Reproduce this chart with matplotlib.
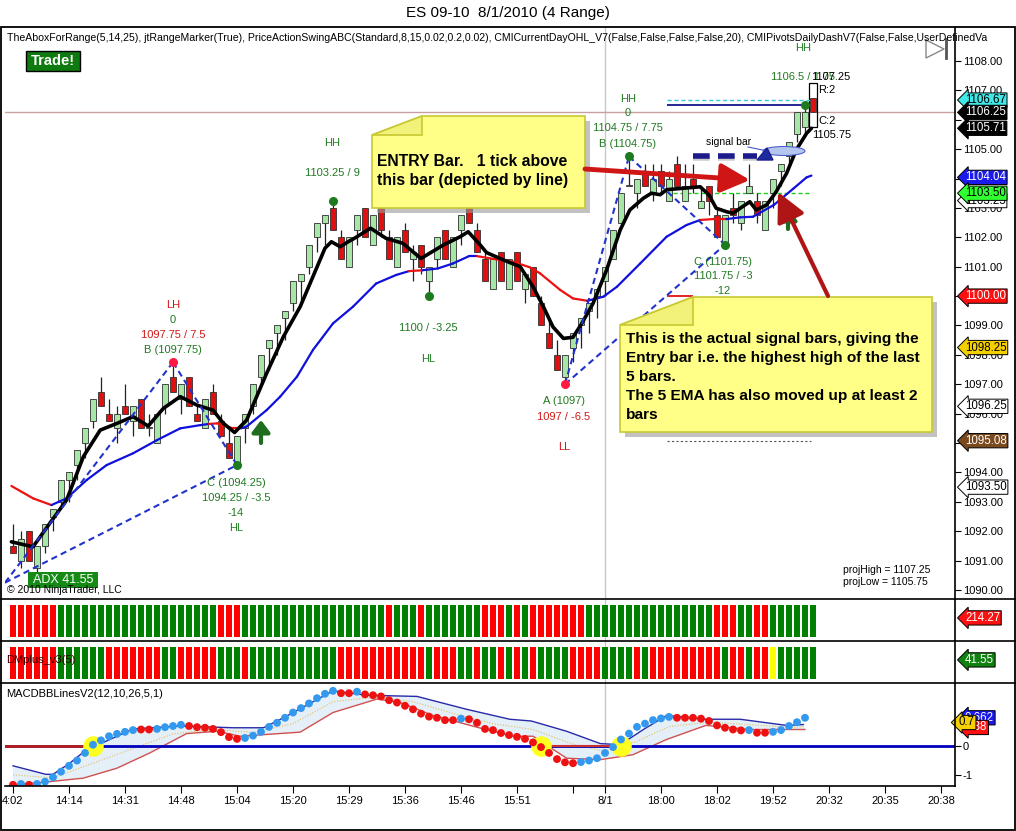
import numpy as np
import matplotlib
matplotlib.use("Agg")
import matplotlib.pyplot as plt
import matplotlib.transforms as mtrans
from matplotlib.patches import Polygon, Rectangle, Ellipse

plt.rcParams['font.family'] = ['Liberation Sans', 'DejaVu Sans']

# ---------------- data ----------------
opens = [1091.5,1091.0,1092.0,1090.75,1091.5,1092.5,1093.0,1093.75,1094.25,1095.0,
 1095.75,1096.75,1096.0,1095.5,1096.25,1095.75,1096.5,1095.5,1095.0,1096.25,
 1097.25,1096.5,1097.25,1096.0,1095.5,1096.75,1095.75,1095.0,1094.25,1095.5,
 1096.25,1097.25,1098.25,1098.75,1099.25,1099.75,1100.5,1101.0,1102.0,1102.5,
 1103.0,1102.0,1101.0,1102.25,1103.0,1101.75,1103.0,1102.0,1101.0,1102.25,
 1101.25,1101.75,1100.5,1101.25,1102.25,1101.0,1102.25,1103.0,1102.25,1101.25,
 1100.25,1101.5,1100.25,1101.5,1100.25,1101.0,1099.75,1098.75,1098.0,1097.25,
 1098.25,1099.0,1099.5,1100.0,1100.5,1101.25,1102.5,1103.75,1103.5,1104.25,
 1103.5,1104.25,1103.25,1104.5,1103.25,1104.0,1103.0,1103.75,1102.75,1101.75,
 1103.0,1102.5,1103.5,1103.25,1102.25,1103.5,1104.25,1104.75,1105.5,1105.75,
 1106.75]
highs = [1092.25,1092.0,1092.0,1091.5,1092.25,1092.75,1093.75,1094.0,1094.75,1095.5,
 1096.5,1097.25,1096.5,1096.25,1097.0,1096.25,1096.5,1096.0,1096.0,1097.0,
 1097.75,1097.0,1097.25,1096.25,1096.5,1097.0,1096.0,1095.5,1095.25,1096.0,
 1097.0,1098.0,1098.5,1099.0,1099.5,1100.5,1100.75,1101.75,1102.5,1102.75,
 1103.25,1102.25,1102.0,1102.75,1103.0,1102.75,1103.0,1102.25,1102.0,1102.5,
 1101.75,1101.75,1101.0,1102.0,1102.25,1102.0,1102.75,1103.25,1102.5,1101.5,
 1101.25,1101.5,1101.25,1101.5,1100.75,1101.0,1100.0,1099.25,1098.5,1098.0,
 1098.75,1099.25,1099.75,1100.25,1101.0,1102.25,1103.5,1104.75,1104.0,1104.5,
 1104.5,1104.5,1104.25,1104.75,1104.5,1104.5,1103.75,1103.75,1103.0,1102.75,
 1103.5,1103.25,1104.5,1103.5,1103.25,1104.0,1104.5,1105.25,1106.25,1106.5,
 1106.75]
lows = [1091.25,1090.75,1091.0,1090.5,1091.25,1092.0,1092.75,1093.0,1093.75,1094.5,
 1095.5,1096.25,1095.75,1095.0,1096.0,1095.25,1095.5,1095.25,1095.0,1096.0,
 1096.75,1096.0,1096.25,1095.75,1095.5,1096.0,1095.25,1094.5,1094.25,1095.0,
 1096.0,1097.0,1097.5,1098.0,1098.5,1099.5,1099.75,1100.75,1101.5,1101.75,
 1102.25,1101.25,1101.0,1101.75,1102.0,1101.75,1102.0,1101.25,1101.0,1101.5,
 1100.5,1100.75,1100.0,1101.0,1101.25,1101.0,1101.75,1102.5,1101.5,1100.5,
 1100.25,1100.5,1100.25,1100.5,1099.75,1100.0,1099.0,1098.25,1097.5,1097.0,
 1097.75,1098.25,1098.75,1099.25,1100.0,1101.25,1102.5,1103.75,1103.0,1103.75,
 1103.25,1103.5,1103.25,1103.75,1103.25,1103.5,1103.0,1102.75,1102.0,1101.75,
 1102.5,1102.25,1103.5,1102.5,1102.25,1103.0,1103.75,1104.5,1105.25,1105.5,
 1106.25]
closes = [1091.25,1091.75,1091.0,1091.5,1092.25,1092.75,1093.75,1094.0,1094.75,1095.5,
 1096.5,1096.25,1095.75,1096.0,1096.0,1096.25,1095.5,1095.5,1096.0,1097.0,
 1096.75,1097.0,1096.25,1095.75,1096.5,1096.0,1095.25,1094.5,1095.25,1096.0,
 1097.0,1098.0,1098.5,1099.0,1099.5,1100.5,1100.75,1101.75,1102.5,1102.75,
 1102.25,1101.25,1102.0,1102.75,1102.0,1102.75,1102.25,1101.25,1102.0,1101.5,
 1101.5,1101.0,1101.0,1102.0,1101.25,1102.0,1102.75,1102.5,1101.5,1100.5,
 1101.25,1100.5,1101.25,1100.5,1100.75,1100.0,1099.0,1098.25,1097.5,1098.0,
 1098.75,1099.25,1099.75,1100.25,1101.0,1102.25,1103.5,1103.75,1104.0,1103.75,
 1104.0,1103.75,1104.0,1103.75,1103.75,1103.75,1103.25,1103.25,1102.0,1102.75,
 1102.75,1103.25,1103.75,1102.75,1103.25,1104.0,1104.5,1105.25,1106.25,1106.25,
 1106.25]

# fast (5) EMA line: (bar, price)
ema_x = [-0.2, 2.5, 4.6, 6.7, 8.8, 10.9, 13, 15, 16.9, 18.8, 20.9, 23, 25, 26.3, 27.7, 29.2,
         31.7, 33.8, 35.9, 39, 39.8, 40.9, 41.9, 42.7, 44.7, 46.6, 48.7, 51, 53.8, 55.9, 56.9,
         58.4, 59.2, 61.3, 63.4, 65, 66.3, 67.5, 68.8, 70, 71.1, 72.5, 74.2, 75.9, 77.1, 78.8,
         79.8, 80.9, 81.7, 83.8, 85.9, 87, 87.9, 89.2, 90, 90.9, 92.1, 92.9, 94.2, 95.4, 96.7,
         97.9, 99.2, 99.8]
ema_y = [1091.64, 1091.47, 1092.27, 1093.06, 1094.54, 1095.44, 1095.67, 1095.9, 1095.58, 1096.18,
         1096.58, 1096.29, 1096.12, 1095.67, 1095.36, 1095.78, 1097.37, 1098.62, 1099.64, 1101.63,
         1101.85, 1101.68, 1101.85, 1101.97, 1102.31, 1101.97, 1101.8, 1101.28, 1101.74, 1102.02,
         1102.19, 1101.74, 1101.48, 1101.23, 1101.0, 1100.32, 1099.64, 1098.95, 1098.56, 1098.6,
         1099.07, 1099.75, 1100.89, 1102.25, 1102.93, 1103.33, 1103.5, 1103.45, 1103.62, 1103.67,
         1103.72, 1103.44, 1102.99, 1102.87, 1102.82, 1102.99, 1103.21, 1102.93, 1103.1, 1103.55,
         1104.18, 1104.97, 1105.54, 1105.71]

# slow line (blue rising / red falling)
slow_x = [-0.2, 2.5, 4.8, 6.7, 9.2, 11.7, 15, 18, 20.9, 23.4, 24.5, 25.5, 27.5, 28.5, 29.2,
          31.7, 33.4, 35.5, 37.5, 40, 42.5, 45.4, 47.9, 49.5, 51.2, 53.1, 55, 57, 58, 60.4, 62.5,
          64.6, 65.9, 68.4, 70, 71.8, 73.8, 75.5, 78.4, 81.7, 84.2, 85.9, 87.5, 89.2, 90.9, 92.5,
          95.1, 97.6, 99.2, 99.8]
slow_y = [1093.54, 1093.12, 1092.89, 1093.12, 1093.74, 1094.25, 1094.65, 1095.1, 1095.5, 1095.61,
          1095.65, 1095.67, 1095.5, 1095.5, 1095.56, 1096.12, 1096.58, 1097.26, 1098.17, 1099.07,
          1099.64, 1100.43, 1100.72, 1100.85, 1100.88, 1100.94, 1101.11, 1101.36, 1101.36, 1101.25,
          1101.17, 1100.98, 1100.77, 1100.21, 1099.92, 1099.84, 1099.98, 1100.32, 1101.11, 1102.02,
          1102.42, 1102.59, 1102.62, 1102.62, 1102.68, 1102.7, 1103.1, 1103.67, 1104.04, 1104.1]
slow_seg = "RRBBBBBBBBRRRBBBBBBBBBBRBBBBRRRRRRRBBBBBBRRBBBBBB"

# swing points (bar, price)
swing1 = [(-1, 1090.25), (20, 1097.75), (28, 1094.25)]
swing2 = [(69, 1097.0), (77, 1104.75), (89, 1101.75)]
green_dots_x = [28, 40, 52, 77, 89, 99]
green_dots_y = [1094.25, 1103.25, 1100.0, 1104.75, 1101.75, 1106.5]
red_dots_x = [20, 69]
red_dots_y = [1097.75, 1097.0]

# indicator panels (one letter per bar)
panel2 = ("RRRRRR" "GGGGGGGGGGGGGGGGGGGG" "RRR" "GGGGGGGGGGGGGGGGGG" "R" "GGG" "R"
          "GGGGGGG" "RRR" "G" "R" "G" "RRRRRRR" "GGGGGGGGGGGGGGGG" "RRR" "GG" "RR" "GGGGGG")
panel3 = ("RRRRRR" "GGGGGG" "RRRRRRR" "GG" "RRRRR" "GGG" "R" "GGGGGGGGGGG" "RRRRRRRRRRR" "G"
          "RRR" "GG" "R" "GG" "R" "G" "R" "G" "R" "GGGG" "RRRR" "GGGG" "R" "G" "RRRRRRRRR" "G"
          "RR" "G" "RR" "Y" "GGGGG")

# MACD dots (bars 0..99)
macd = [-1.34,-1.31,-1.34,-1.31,-1.23,-1.08,-0.89,-0.69,-0.51,-0.25,
        0.03,0.18,0.32,0.40,0.47,0.53,0.55,0.55,0.57,0.63,
        0.67,0.71,0.67,0.63,0.61,0.57,0.46,0.29,0.23,0.26,
        0.34,0.47,0.64,0.78,0.95,1.13,1.28,1.44,1.62,1.77,
        1.87,1.79,1.79,1.84,1.75,1.72,1.68,1.55,1.47,1.36,
        1.24,1.09,0.99,0.95,0.87,0.87,0.92,0.90,0.78,0.57,
        0.53,0.43,0.36,0.30,0.23,0.11,-0.05,-0.25,-0.46,-0.57,
        -0.60,-0.56,-0.51,-0.43,-0.25,-0.05,0.21,0.41,0.64,0.75,
        0.87,0.93,0.98,0.95,0.95,0.95,0.92,0.84,0.69,0.61,
        0.55,0.52,0.53,0.44,0.44,0.47,0.53,0.67,0.80,0.95]
macd_dir = ("RBRB" "BBBBBBBBBBBB" "RR" "BBBB" "RRRRRRR" "BBBBBBBBBBBB" "RR" "B"
            "RRRRRRRRRRRR" "B" "RRRRRRRRRRRRRR" "BBBBBBBBBBBB" "RRRRRRRRR" "B" "RR" "BBBBB")
bb_up_x = [0, 4.1, 5, 7, 9, 10.9, 15, 20.9, 27.5, 31.3, 33.8, 40, 44.2, 50.5, 56.7, 62.1, 64.8,
           69.2, 73.4, 75.9, 78.8, 81.7, 86.6, 90.9, 96.7, 98.8]
bb_up_y = [-0.69, -0.98, -0.98, -0.62, -0.18, 0.06, 0.57, 0.67, 0.61, 0.61, 0.95, 1.87, 1.72,
           1.68, 1.24, 0.90, 0.84, 0.49, 0.07, 0.03, 0.55, 1.03, 0.90, 0.90, 0.69, 0.72]
bb_lo_x = [0, 4.6, 8.8, 13, 17.1, 21.7, 25.5, 28.4, 35.9, 40, 45.5, 48.4, 52.5, 58.8, 62.5, 65,
           69.2, 73.4, 77.5, 81.7, 86.6, 92.1, 96.7, 99]
bb_lo_y = [-1.34, -1.23, -1.11, -0.77, -0.25, 0.41, 0.49, 0.32, 0.46, 1.13, 1.59, 1.47, 1.03,
           0.57, 0.32, 0.32, -0.43, -0.48, -0.31, 0.21, 0.69, 0.55, 0.55, 0.55]
bb_mid_x = [0, 5, 10, 15, 20, 25, 30, 35, 40, 45, 50, 55, 60, 65, 70, 74, 78, 82, 87, 92, 97, 99]
bb_mid_y = [-1.0, -1.1, -0.6, -0.1, 0.4, 0.55, 0.45, 0.75, 1.5, 1.65, 1.5, 1.1, 0.75, 0.55,
            0.05, -0.2, 0.15, 0.65, 0.8, 0.72, 0.62, 0.65]
cross_x = [10, 66, 76]
cross_y = [0.0, -0.02, -0.02]

price_ticks = [1090, 1091, 1092, 1093, 1094, 1095, 1096, 1097, 1098, 1099,
               1100, 1101, 1102, 1103, 1104, 1105, 1106, 1107, 1108]
price_hidden = [1100, 1104, 1106]   # labels fully covered by flags in the reference
time_ticks = [0, 7, 14, 21, 28, 35, 42, 49, 56, 63, 70, 74, 81, 88, 95, 102, 109, 116]
time_labels = ['4:02', '14:14', '14:31', '14:48', '15:04', '15:20', '15:29', '15:36', '15:46',
               '15:51', '', '8/1', '18:00', '18:02', '19:52', '20:32', '20:35', '20:38']

# ---------------- figure ----------------
W, H = 1016, 831
fig = plt.figure(figsize=(W / 100, H / 100), dpi=100)
fig.patch.set_facecolor('white')
XMIN, XMAX = -1.0, 117.75


def add_ax(x0, y0, x1, y1, z=1):
    a = fig.add_axes([x0 / W, 1 - y1 / H, (x1 - x0) / W, (y1 - y0) / H], zorder=z)
    for s in a.spines.values():
        s.set_visible(False)
    a.set_xlim(XMIN, XMAX)
    a.set_facecolor('none')
    return a


def flag(a, y, s, fc, tc, xfrac=1.0105, fs=8.3):
    tr = mtrans.blended_transform_factory(a.transAxes, a.transData)
    a.text(xfrac, y, s, transform=tr, ha='left', va='center', fontsize=fs, color=tc,
           bbox=dict(boxstyle='larrow,pad=0.1', fc=fc, ec='black', lw=0.7),
           clip_on=False, zorder=30)


# ---- main price panel ----
ax = add_ax(5, 28, 955, 598)
ax.set_ylim(1089.728, 1109.122)
ax.yaxis.tick_right()
ax.set_yticks(price_ticks)
ax.set_yticklabels(['' if v in price_hidden else f"{v:.2f}" for v in price_ticks], fontsize=8)
ax.tick_params(axis='y', direction='out', length=4, pad=1.5, width=0.8)
ax.set_xticks([])
ax.axvline(74, color='#c8c8c8', lw=1, zorder=0)
ax.axhline(1106.25, color='#c8a0a0', lw=1, zorder=1)

o = np.array(opens); h = np.array(highs); l = np.array(lows); c = np.array(closes)
xb = np.arange(len(o))
up = c >= o
ax.add_patch(Rectangle((99.45, 1105.75), 1.1, 1.5, fc='white', ec='black', lw=0.9, zorder=2))
ax.vlines(xb, l, h, color='#222222', lw=0.9, zorder=3)
blo = np.minimum(o, c)
bh = np.maximum(np.abs(c - o), 0.035)
ax.bar(xb, bh, bottom=blo, width=0.7, color=np.where(up, '#a6e6a6', '#e01010'),
       edgecolor='#303030', linewidth=0.6, zorder=4)

# horizontal level lines
ax.hlines(1106.67, 81.75, 99.6, colors='#38c8e0', lw=1, linestyles=(0, (3, 2)), zorder=2)
ax.hlines(1106.5, 81.75, 99.0, colors='#000080', lw=1.2, zorder=2)
ax.hlines(1103.5, 82.5, 99.7, colors='#22cc22', lw=1, linestyles=(0, (3, 2)), zorder=2)
ax.hlines(1100.0, 81.75, 85.0, colors='#dd0000', lw=1.2, zorder=2)
ax.hlines(1095.08, 81.75, 99.75, colors='#555555', lw=0.8, linestyles=(0, (2, 2)), zorder=2)

# slow line
for k in range(len(slow_x) - 1):
    col = '#ee1111' if slow_seg[k] == 'R' else '#1010dd'
    ax.plot(slow_x[k:k + 2], slow_y[k:k + 2], color=col, lw=1.6, zorder=5,
            solid_capstyle='round')
ax.plot(ema_x, ema_y, color='black', lw=2.6, zorder=6, solid_capstyle='round')

# swing lines
for sw in (swing1, swing2):
    (x0, y0), (x1, y1), (x2, y2) = sw
    for (a0, b0), (a1, b1) in [((x0, y0), (x1, y1)), ((x1, y1), (x2, y2)), ((x0, y0), (x2, y2))]:
        ax.plot([a0, a1], [b0, b1], color='#2233cc', lw=1.5, ls=(0, (3, 2)), zorder=7)
ax.scatter(green_dots_x, green_dots_y, s=30, color='#1d7a1d', zorder=8)
ax.scatter(red_dots_x, red_dots_y, s=30, color='#ff1840', zorder=8)

# price flags
flag(ax, 1106.67, '1106.67', '#40e8e8', 'black')
flag(ax, 1106.25, '1106.25', 'black', 'white')
flag(ax, 1105.71, '1105.71', 'black', 'white')
flag(ax, 1104.04, '1104.04', '#1a1aee', 'white')
flag(ax, 1103.25, '1103.25', 'white', 'black')
flag(ax, 1103.50, '1103.50', '#30ff30', 'black')
flag(ax, 1100.00, '1100.00', '#ff1010', 'white')
flag(ax, 1098.25, '1098.25', '#f5d000', 'black')
flag(ax, 1096.25, '1096.25', 'white', 'black')
flag(ax, 1095.08, '1095.08', '#7a4a1e', 'white')
flag(ax, 1093.50, '1093.50', 'white', 'black')

# ---- panel 2 and 3 ----
cmap = {'R': '#ff0000', 'G': '#008000', 'Y': '#ffff00'}
ax2 = add_ax(5, 599, 955, 641)
ax3 = add_ax(5, 641, 955, 683)
for a, pcol in ((ax2, panel2), (ax3, panel3)):
    a.set_ylim(0, 1)
    a.set_xticks([]); a.set_yticks([])
    a.axvline(74, color='#c8c8c8', lw=1, zorder=0)
    xs = np.arange(len(pcol))
    a.bar(xs, 0.76, bottom=0.095, width=0.86, color=[cmap[k] for k in pcol], zorder=2)
flag(ax2, 0.55, '214.27', '#ff1010', 'white')
flag(ax3, 0.55, '41.55', '#108010', 'white')
ax3.text(-0.8, 0.55, 'DMplus_v3(5)', fontsize=8, color='#330000', va='center', zorder=5)

# ---- MACD panel ----
axm = add_ax(5, 683, 955, 786)
axm.set_ylim(-1.379, 2.138)
axm.axvline(74, color='#c8c8c8', lw=1, zorder=0)
band = list(zip(bb_up_x, bb_up_y)) + list(zip(bb_lo_x, bb_lo_y))[::-1]
axm.add_patch(Polygon(band, closed=True, fc='#e4eff8', ec='none', zorder=1))
axm.plot(bb_up_x, bb_up_y, color='#2a2aa8', lw=1, zorder=2)
axm.plot(bb_lo_x, bb_lo_y, color='#d05050', lw=1, zorder=2)
axm.plot(bb_mid_x, bb_mid_y, color='#e0c060', lw=0.8, ls=(0, (1, 1.5)), zorder=2)
axm.axhline(0, color='#0000bb', lw=2, zorder=2)
axm.plot([-1, 9.6], [0, 0], color='#b82020', lw=2, zorder=2.5)
axm.plot([65.9, 75.9], [0, 0], color='#cc3030', lw=1.5, zorder=2.5)
axm.scatter(cross_x, cross_y, s=190, color='#ffff20', zorder=3)
mx = np.arange(len(macd))
axm.scatter(mx, macd, s=32, color=['#3399ee' if d == 'B' else '#ee1111' for d in macd_dir],
            zorder=4, linewidths=0)
axm.text(-0.8, 1.75, 'MACDBBLinesV2(12,10,26,5,1)', fontsize=8, va='center', zorder=5)
axm.yaxis.tick_right()
axm.set_yticks([0, -1])
axm.set_yticklabels(['0', '-1'], fontsize=8)
axm.tick_params(axis='y', direction='out', length=4, pad=1.5)
axm.set_xticks(time_ticks)
axm.set_xticklabels(time_labels, fontsize=8)
axm.tick_params(axis='x', direction='out', length=5, pad=2)
flag(axm, 0.95, '0.662', '#1a1aee', 'white')
flag(axm, 0.62, '0.38', '#ff1010', 'white')
flag(axm, 0.79, '0.7', '#f5d000', 'black', xfrac=1.004)

# ---------------- overlay (annotations, frame) ----------------
ov = fig.add_axes([0, 0, 1, 1], zorder=50)
ov.set_xlim(0, W); ov.set_ylim(H, 0); ov.axis('off'); ov.patch.set_alpha(0)

ov.add_patch(Rectangle((1, 27), 1014, 803, fill=False, ec='black', lw=1.3))
for yy in (599, 641, 683):
    ov.plot([1, 1015], [yy, yy], color='black', lw=1.2)
ov.plot([955, 955], [28, 786], color='black', lw=1.2)
ov.plot([5, 955], [786, 786], color='black', lw=1.2)

ov.text(508, 13, 'ES 09-10  8/1/2010 (4 Range)', fontsize=11, ha='center', va='center')
ov.text(7, 38, 'TheAboxForRange(5,14,25), jtRangeMarker(True), PriceActionSwingABC(Standard,8,15,0.02,0.2,0.02), '
        'CMICurrentDayOHL_V7(False,False,False,False,20), CMIPivotsDailyDashV7(False,False,UserDefinedVa',
        fontsize=7.6, va='center')

# play icon
ov.plot([926, 944, 926, 926], [40, 49, 58, 40], color='#888888', lw=1)
ov.plot([946, 946], [39, 58], color='#555555', lw=2)

# Trade! box and ADX box
ov.add_patch(Rectangle((26, 51), 54, 20, fc='#0f7a0f', ec='black', lw=1))
ov.text(53, 61, 'Trade!', color='white', fontweight='bold', fontsize=10.5, ha='center', va='center')
ov.text(7, 590, '\u00a9 2010 NinjaTrader, LLC', fontsize=7.5, va='center')
ov.add_patch(Rectangle((28, 572), 70, 16, fc='#158a15', ec='none'))
ov.text(63, 580, 'ADX 41.55', color='white', fontsize=9, ha='center', va='center')
ov.text(843, 570, 'projHigh = 1107.25', fontsize=7.5, va='center')
ov.text(843, 582, 'projLow = 1105.75', fontsize=7.5, va='center')

# pivot labels
G, R = '#217a21', '#d01818'
labels = [
    ('LH', 173, 305, R), ('0', 173, 320, G), ('1097.75 / 7.5', 173, 335, R), ('B (1097.75)', 173, 350, G),
    ('C (1094.25)', 236, 483, G), ('1094.25 / -3.5', 236, 498, G), ('-14', 236, 513, G), ('HL', 236, 528, G),
    ('HH', 332, 143, G), ('1103.25 / 9', 332, 173, G),
    ('1100 / -3.25', 428, 328, G), ('HL', 428, 359, G),
    ('A (1097)', 564, 401, G), ('1097 / -6.5', 564, 417, R), ('LL', 564, 447, R),
    ('HH', 628, 99, G), ('0', 628, 113, G), ('1104.75 / 7.75', 628, 128, G), ('B (1104.75)', 628, 144, G),
    ('C (1101.75)', 723, 262, G), ('1101.75 / -3', 723, 276, G), ('-12', 723, 291, G),
    ('HH', 803, 48, G), ('1106.5 / 1.75', 803, 77, G),
]
for s, xx, yy, col in labels:
    ov.text(xx, yy, s, color=col, fontsize=8, ha='center', va='center')
ov.text(811, 77, '1107.25', fontsize=8, va='center', color='black')
ov.text(818, 90, 'R:2', fontsize=8, va='center')
ov.text(818, 121, 'C:2', fontsize=8, va='center')
ov.text(812, 135, '1105.75', fontsize=8, va='center')

# green up arrows
for xx, y0, y1 in ((261, 443, 420), (788, 229, 208)):
    ov.annotate('', xy=(xx, y1), xytext=(xx, y0),
                arrowprops=dict(arrowstyle='-|>,head_length=0.6,head_width=0.45', color='#1f6e1f',
                                lw=3, mutation_scale=12, shrinkA=0, shrinkB=0))

# signal bar annotation
ov.text(729, 142, 'signal bar', fontsize=7.5, ha='center', va='center')
ov.plot([748, 772], [147, 152], color='#4455cc', lw=0.8)
ov.add_patch(Ellipse((784, 151), 42, 9, fc='#b4c6ee', ec='#5060cc', lw=0.8, zorder=3))
ov.plot([693, 757], [158, 158], color='#999999', lw=4, ls=(0, (3, 1.5)), alpha=0.5, zorder=3)
ov.plot([693, 757], [156, 156], color='#1c1c8c', lw=4, ls=(0, (3, 1.5)), zorder=4)
ov.add_patch(Polygon([(757, 160), (773, 160), (767, 148)], closed=True, fc='#1c2ca0', ec='#1c1c8c', zorder=4))


def callout(pts, fold, off=5):
    ov.add_patch(Polygon([(x + off, y + off) for x, y in pts], closed=True, fc='#9a9a9a',
                         ec='none', alpha=0.6, zorder=5))
    ov.add_patch(Polygon(pts, closed=True, fc='#ffff88', ec='#c8c832', lw=1.2, zorder=6))
    ov.add_patch(Polygon(fold, closed=True, fc='#f2f27a', ec='#c8c832', lw=1.2, zorder=7))


callout([(372, 135), (422, 116), (585, 116), (585, 208), (372, 208)],
        [(372, 135), (422, 135), (422, 116)])
ov.text(377, 162, 'ENTRY Bar.   1 tick above', fontsize=11.3, fontweight='bold', va='center', zorder=8)
ov.text(377, 181, 'this bar (depicted by line)', fontsize=11.3, fontweight='bold', va='center', zorder=8)

callout([(620, 325), (693, 297), (932, 297), (932, 432), (620, 432)],
        [(620, 325), (693, 325), (693, 297)])
lines2 = ['This is the actual signal bars, giving the',
          'Entry bar i.e. the highest high of the last',
          '5 bars.',
          'The 5 EMA has also moved up at least 2',
          'bars']
for k, s in enumerate(lines2):
    ov.text(626, 339 + 19 * k, s, fontsize=11.1, fontweight='bold', va='center', zorder=8)

# red arrows
ov.annotate('', xy=(750, 180), xytext=(585, 169),
            arrowprops=dict(arrowstyle='-|>,head_length=1.1,head_width=0.55', color='#d01515',
                            lw=3.5, mutation_scale=16, shrinkA=0, shrinkB=0), zorder=9)
ov.annotate('', xy=(778, 192), xytext=(828, 296),
            arrowprops=dict(arrowstyle='-|>,head_length=1.1,head_width=0.55', color='#b01515',
                            lw=3, mutation_scale=16, shrinkA=0, shrinkB=0), zorder=9)

fig.savefig('out.png', dpi=100)
